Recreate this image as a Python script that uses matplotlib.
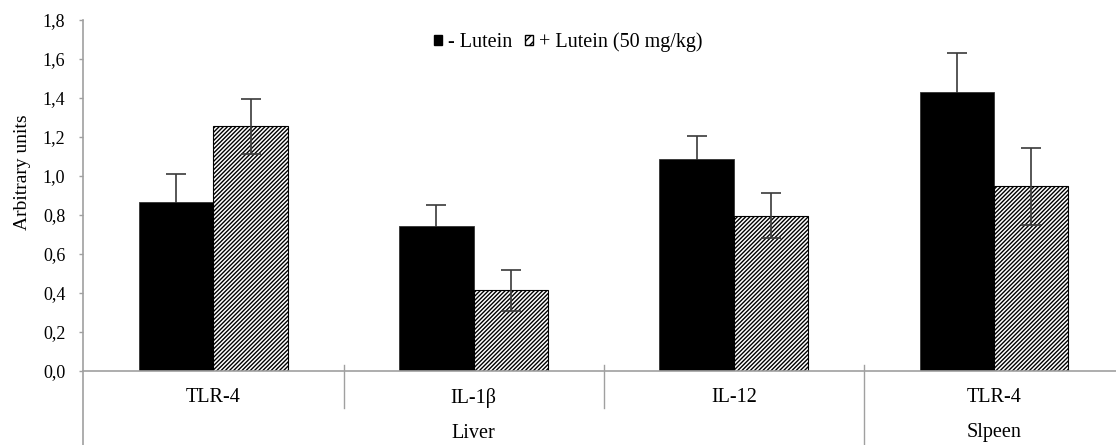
import numpy as np
import matplotlib
matplotlib.use('Agg')
import matplotlib.pyplot as plt
from matplotlib.patches import Patch
import matplotlib.transforms as mtransforms

plt.rcParams['font.family'] = ['Liberation Serif', 'DejaVu Serif']
plt.rcParams['hatch.linewidth'] = 1.0

# data
genes = ['TLR-4', 'IL-1β', 'IL-12', 'TLR-4']
organs = ['Liver', 'Slpeen']
organ_of_gene = [0, 0, 0, 1]
no_lutein = [0.865, 0.745, 1.087, 1.432]
no_lutein_err = [0.145, 0.105, 0.118, 0.200]
lutein = [1.255, 0.414, 0.797, 0.947]
lutein_err = [0.140, 0.105, 0.115, 0.197]
labels = ['- Lutein', '+ Lutein (50 mg/kg)']
yticks = [0.0, 0.2, 0.4, 0.6, 0.8, 1.0, 1.2, 1.4, 1.6, 1.8]

W, H = 1116, 445
fig = plt.figure(figsize=(W / 100, H / 100), dpi=100)
left, right, top, bottom = 83.4, 1124, 20, 371
ax = fig.add_axes([left / W, (H - bottom) / H, (right - left) / W, (bottom - top) / H])

grey = '#a0a0a0'
x = np.arange(len(genes))
bw = 0.286
ekw = dict(ecolor='#3a3a3a', elinewidth=1.2, capsize=7, capthick=1.2)

# black bars drawn over their own error bars, so only the upper half shows
ax.errorbar(x - bw / 2, no_lutein, yerr=no_lutein_err, fmt='none', zorder=1, **ekw)
ax.bar(x - bw / 2, no_lutein, bw, color='black', edgecolor='#333333', linewidth=0.6, zorder=2)
ax.bar(x + bw / 2, lutein, bw, color='white', edgecolor='black', linewidth=0.8, hatch='////////',
       zorder=2)
ax.errorbar(x + bw / 2, lutein, yerr=lutein_err, fmt='none', zorder=3, **ekw)

ax.set_xlim(-0.5, len(genes) - 0.5)
ax.set_ylim(0, 1.8)
ax.set_yticks(yticks)
ax.set_yticklabels([('%.1f' % v).replace('.', ',') for v in yticks])
ax.set_xticks(x)
ax.set_xticklabels(genes)
ax.tick_params(axis='y', colors=grey, length=3, width=1, labelsize=13, labelcolor='black', pad=10)
ax.tick_params(axis='x', length=0, labelsize=14.5, pad=12)

for s in ['top', 'right']:
    ax.spines[s].set_visible(False)
for s in ['left', 'bottom']:
    ax.spines[s].set_color(grey)
    ax.spines[s].set_linewidth(1.2)

ax.set_ylabel('Arbitrary units', fontsize=14)
ax.yaxis.set_label_coords(-0.05, 0.567)

# category separators below the axis
trans = mtransforms.blended_transform_factory(ax.transData, ax.transAxes)
low_short = -(408 - bottom) / (bottom - top)
low_full = -(H - bottom) / (bottom - top)
up = 6 / (bottom - top)
ax.plot([-0.5, -0.5], [0, low_full], color=grey, lw=1.2, transform=trans, clip_on=False)
for i in range(len(genes) - 1):
    b = i + 0.5
    lo = low_full if organ_of_gene[i] != organ_of_gene[i + 1] else low_short
    ax.plot([b, b], [up, lo], color=grey, lw=1.0, transform=trans, clip_on=False)

# organ labels
for k, org in enumerate(organs):
    pos = [x[i] for i in range(len(genes)) if organ_of_gene[i] == k]
    ax.text(np.mean(pos), -(433 - bottom) / (bottom - top), org, ha='center', va='center',
            fontsize=14.5, transform=trans)

handles = [Patch(facecolor='black', edgecolor='black'),
           Patch(facecolor='white', edgecolor='black', hatch='////')]
ax.legend(handles, labels, loc='center', bbox_to_anchor=(0.466, 0.937), ncol=2, frameon=False,
          fontsize=14.5, handlelength=0.4, handleheight=0.4, handletextpad=0.3,
          columnspacing=0.6, borderpad=0)

fig.savefig('out.png', dpi=100)
